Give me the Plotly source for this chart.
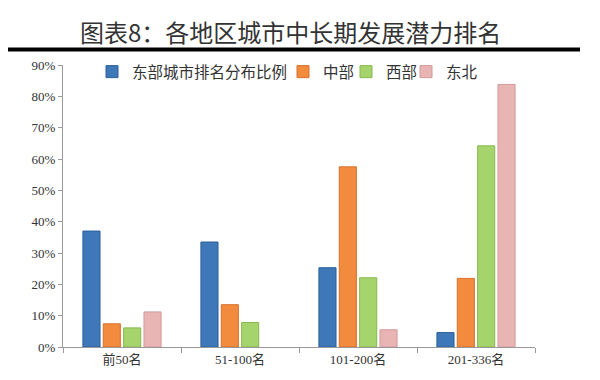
import plotly.graph_objects as go

categories = ["前50名", "51-100名", "101-200名", "201-336名"]
series_names = ["东部城市排名分布比例", "中部", "西部", "东北"]
east = [37.0, 33.5, 25.3, 4.6]
central = [7.4, 13.5, 57.5, 21.9]
west = [6.1, 7.8, 22.1, 64.2]
northeast = [11.2, 0, 5.5, 83.8]
tick_vals = [0, 10, 20, 30, 40, 50, 60, 70, 80, 90]
tick_text = ["0%", "10%", "20%", "30%", "40%", "50%", "60%", "70%", "80%", "90%"]

colors = ["#3F78B8", "#F28B3E", "#A6D46C", "#E8B4B4"]
edge = ["#2A5E9A", "#D9702A", "#88B850", "#D49A9A"]
legend_ids = ["legend", "legend2", "legend3", "legend4"]
legend_px = [92, 283, 346, 406]

fig = go.Figure()
for name, vals, c, e, lg in zip(series_names, [east, central, west, northeast], colors, edge, legend_ids):
    fig.add_trace(go.Bar(x=categories, y=[v if v > 0 else None for v in vals], name=name,
                         legend=lg,
                         marker=dict(color=c, line=dict(color=e, width=1))))

legend_common = dict(orientation="h", y=0.975, xanchor="left", yanchor="middle",
                     font=dict(family="Noto Sans CJK SC", size=15.5, color="#333333"),
                     bgcolor="rgba(0,0,0,0)", itemwidth=30)

fig.update_layout(
    width=600, height=380,
    margin=dict(l=63, r=65, t=65, b=33),
    paper_bgcolor="white", plot_bgcolor="white",
    barmode="group", bargap=0.31, bargroupgap=0.16,
    font=dict(family="Liberation Serif, Noto Sans CJK SC", color="#333333"),
    showlegend=True,
    xaxis=dict(showline=True, linecolor="#999999", linewidth=1, ticks="outside",
               tickson="boundaries", ticklen=5, tickcolor="#999999",
               tickfont=dict(family="Liberation Serif, Noto Sans CJK SC", size=13, color="#333333"),
               showgrid=False),
    yaxis=dict(range=[0, 90], tickvals=tick_vals, ticktext=tick_text,
               showline=True, linecolor="#999999", linewidth=1, ticks="outside",
               ticklen=4, tickcolor="#999999", showgrid=False, zeroline=False,
               tickfont=dict(family="Liberation Serif", size=13, color="#333333")),
)
for lg, px in zip(legend_ids, legend_px):
    fig.update_layout({lg: dict(legend_common, x=(px - 63) / 472)})

fig.add_annotation(text="图表8：各地区城市中长期发展潜力排名", xref="paper", yref="paper",
                   x=(290 - 63) / 472, y=1 + (65 - 32) / 282, xanchor="center", yanchor="middle",
                   showarrow=False, font=dict(family="Noto Sans CJK SC", size=24, color="#333333"))
fig.add_shape(type="line", xref="paper", yref="paper",
              x0=(8 - 63) / 472, x1=(580 - 63) / 472,
              y0=1 + (65 - 49.5) / 282, y1=1 + (65 - 49.5) / 282,
              line=dict(color="black", width=4))

fig.write_html("out.html", config={"displayModeBar": False},
               post_script="document.body.style.margin='0';")
